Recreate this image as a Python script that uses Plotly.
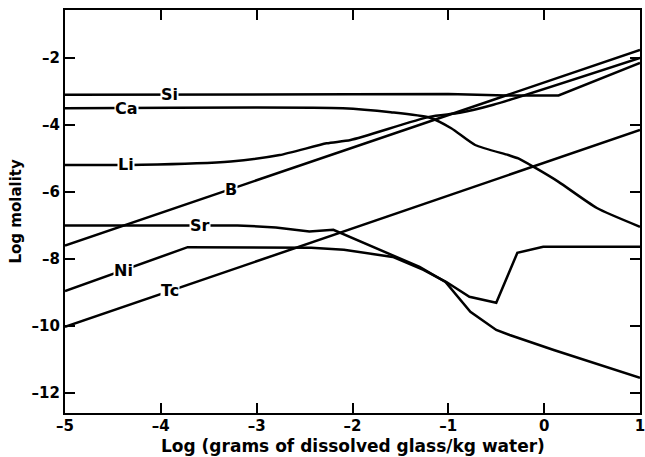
import numpy as np
import plotly.graph_objects as go

# log (g dissolved glass / kg water)
x_si = [-5, -2, -1, -0.4, 0.15, 1]
y_si = [-3.1, -3.07, -3.08, -3.12, -3.12, -2.15]

x_ca = [-5, -2.1, -1.6, -1.2, -0.97, -0.72, -0.375, -0.27, -0.1, 0.15, 0.55, 1]
y_ca = [-3.5, -3.5, -3.62, -3.78, -4.1, -4.6, -4.9, -5.0, -5.27, -5.7, -6.48, -7.04]

x_li = [-5, -4.2, -3.27, -2.76, -2.27, -2.02, -1.2, -0.88, -0.53, 1]
y_li = [-5.2, -5.19, -5.09, -4.9, -4.55, -4.45, -3.76, -3.64, -3.40, -2.0]

x_b = [-5, 1]
y_b = [-7.6, -1.76]

x_sr = [-5, -3.2, -2.8, -2.45, -2.2, -1.64, -1.3, -1.03, -0.92, -0.77, -0.5, -0.36, 0.1, 1]
y_sr = [-7.0, -7.0, -7.06, -7.18, -7.13, -7.82, -8.24, -8.69, -9.07, -9.58, -10.12, -10.27, -10.72, -11.55]

x_ni = [-5, -3.72, -2.43, -2.09, -1.58, -1.26, -1.02, -0.78, -0.5, -0.28, -0.01, 1]
y_ni = [-8.96, -7.65, -7.67, -7.73, -7.94, -8.33, -8.69, -9.13, -9.31, -7.82, -7.64, -7.64]

x_tc = [-5, 1]
y_tc = [-10.03, -4.15]

species = ["Si", "Ca", "Li", "B", "Sr", "Ni", "Tc"]
xs = [x_si, x_ca, x_li, x_b, x_sr, x_ni, x_tc]
ys = [y_si, y_ca, y_li, y_b, y_sr, y_ni, y_tc]
label_x = [-3.91, -4.36, -4.36, -3.27, -3.59, -4.39, -3.9]
# smoothly varying curves get a gentle spline, kinked ones stay linear
shapes = ["linear", "spline", "spline", "linear", "linear", "linear", "linear"]

x_ticks = [-5, -4, -3, -2, -1, 0, 1]
y_ticks = [-12, -10, -8, -6, -4, -2]

FONT = "DejaVu Sans"


def fmt(v):
    return ("\u2013" + str(abs(v))) if v < 0 else str(v)


fig = go.Figure()
for name, xv, yv, lx, shp in zip(species, xs, ys, label_x, shapes):
    line = dict(color="black", width=2.5, shape=shp)
    if shp == "spline":
        line["smoothing"] = 0.6
    fig.add_trace(go.Scatter(x=xv, y=yv, mode="lines", name=name, line=line,
                             showlegend=False, hoverinfo="skip"))
    ly = float(np.interp(lx, xv, yv))
    fig.add_annotation(x=lx, y=ly, text=name, showarrow=False,
                       bgcolor="white", borderpad=0,
                       font=dict(family=FONT, size=16, color="black", weight="bold"))

axis_common = dict(
    showline=True, linecolor="black", linewidth=2.2, mirror="ticks",
    ticks="inside", ticklen=10, tickwidth=1.5, tickcolor="black",
    showgrid=False, zeroline=False, ticklabeloverflow="allow", automargin=False,
    tickfont=dict(family=FONT, size=15, color="black", weight="bold"),
)

fig.update_xaxes(range=[-5, 1], tickvals=x_ticks, ticktext=[fmt(v) for v in x_ticks],
                 ticklabelstandoff=-2, **axis_common)
fig.update_yaxes(range=[-12.6, -0.57], tickvals=y_ticks, ticktext=[fmt(v) for v in y_ticks],
                 **axis_common)

# axis titles placed below / left of the frame
fig.add_annotation(xref="paper", yref="paper", x=0.5, y=0, yshift=-33,
                   xanchor="center", yanchor="middle", showarrow=False,
                   text="Log (grams of dissolved glass/kg water)",
                   font=dict(family=FONT, size=17, color="black", weight="bold"))
fig.add_annotation(xref="paper", yref="paper", x=0, y=0.5, xshift=-50,
                   xanchor="center", yanchor="middle", showarrow=False, textangle=-90,
                   text="Log molality",
                   font=dict(family=FONT, size=15, color="black", weight="bold"))

fig.update_layout(width=645, height=457, margin=dict(l=65, r=5, t=10, b=44),
                  paper_bgcolor="white", plot_bgcolor="white")

fig.write_html("out.html")
